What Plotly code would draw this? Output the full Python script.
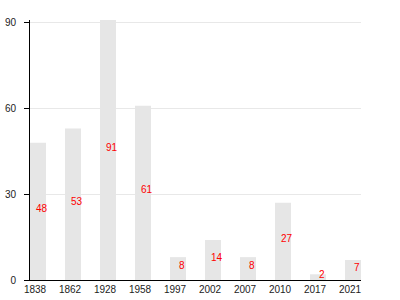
import plotly.graph_objects as go

years = ["1838", "1862", "1928", "1958", "1997", "2002", "2007", "2010", "2017", "2021"]
values = [48, 53, 91, 61, 8, 14, 8, 27, 2, 7]
y_ticks = [0, 30, 60, 90]

bar_w = 0.457

fig = go.Figure()
fig.add_trace(go.Bar(
    x=years, y=values, width=bar_w,
    marker=dict(color="#e6e6e6", line=dict(width=0)),
    hoverinfo="skip",
))

for i, v in enumerate(values):
    fig.add_annotation(
        x=i, y=v / 2, xref="x", yref="y", text=str(v), showarrow=False,
        xshift=4, yshift=3,
        font=dict(family="Liberation Sans, Arial, sans-serif", size=10, color="#ff0000"),
    )

fig.update_layout(
    width=400, height=300,
    margin=dict(l=30, r=39, t=20, b=20),
    paper_bgcolor="white", plot_bgcolor="white",
    showlegend=False,
    font=dict(family="Liberation Sans, Arial, sans-serif", size=10, color="#222"),
)
fig.update_xaxes(
    type="category",
    range=[-bar_w / 2, len(years) - 1 + bar_w / 2],
    showline=True, linecolor="black", linewidth=1,
    showgrid=False, ticks="", ticklabelshift=-3,
    tickfont=dict(size=10), automargin=False,
)
fig.update_yaxes(
    range=[0, 91], tickvals=y_ticks,
    showline=True, linecolor="black", linewidth=1,
    showgrid=True, gridcolor="#e8e8e8", gridwidth=1,
    ticks="outside", ticklen=5, tickcolor="black",
    zeroline=False, tickfont=dict(size=10), automargin=False,
    ticklabelstandoff=6,
)

fig.write_html("out.html")
